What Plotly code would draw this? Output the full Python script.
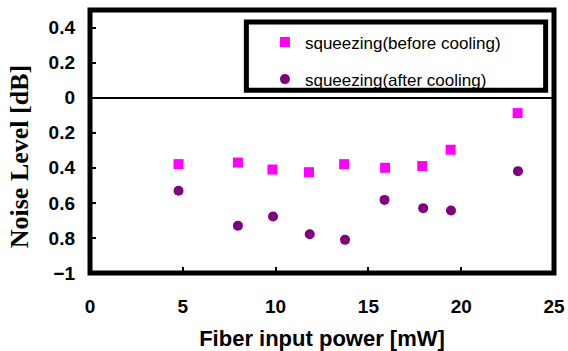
import plotly.graph_objects as go

# Data
power_before = [4.77, 7.97, 9.83, 11.8, 13.69, 15.9, 17.9, 19.43, 23.04]
noise_before = [-0.379, -0.37, -0.41, -0.425, -0.379, -0.40, -0.39, -0.297, -0.088]
power_after = [4.77, 7.97, 9.86, 11.84, 13.74, 15.87, 17.95, 19.45, 23.06]
noise_after = [-0.531, -0.73, -0.678, -0.779, -0.811, -0.583, -0.63, -0.644, -0.419]

x_tickvals = [0, 5, 10, 15, 20, 25]
x_ticktext = ["0", "5", "10", "15", "20", "25"]
y_tickvals = [0.4, 0.2, 0, -0.2, -0.4, -0.6, -0.8, -1]
y_ticktext = ["0.4", "0.2", "0", "0.2", "0.4", "0.6", "0.8", "\u22121"]

name_before = "squeezing(before cooling)"
name_after = "squeezing(after cooling)"

fig = go.Figure()
fig.add_trace(go.Scatter(x=power_before, y=noise_before, mode="markers", name=name_before,
                         legendgroup="a",
                         marker=dict(symbol="square", size=10, color="#FF00FF")))
fig.add_trace(go.Scatter(x=power_after, y=noise_after, mode="markers", name=name_after,
                         legendgroup="b",
                         marker=dict(symbol="circle", size=10, color="#800080")))

tickfont = dict(family="Liberation Sans, Arial", size=19, color="black", weight="bold")

fig.update_layout(
    width=568, height=351,
    margin=dict(l=90, r=14, t=10, b=78, autoexpand=False),
    paper_bgcolor="white", plot_bgcolor="white",
    showlegend=True,
    legend=dict(x=0.377, y=0.945, xanchor="left", yanchor="top",
                bgcolor="rgba(0,0,0,0)", borderwidth=0,
                font=dict(family="Liberation Sans, Arial", size=17, color="black"),
                tracegroupgap=12, itemwidth=30),
    xaxis=dict(range=[0, 25], tickvals=x_tickvals, ticktext=x_ticktext,
               automargin=False,
               showgrid=False, zeroline=False, showline=False,
               ticks="inside", ticklen=6, tickwidth=2, tickcolor="black",
               tickfont=tickfont, ticklabelstandoff=20,
               title=dict(text="Fiber input power [mW]", standoff=16,
                          font=dict(family="Liberation Sans, Arial", size=22,
                                    color="black", weight="bold"))),
    yaxis=dict(range=[-1, 0.5], tickvals=y_tickvals, ticktext=y_ticktext,
               automargin=False,
               showgrid=False, zeroline=True, zerolinecolor="black", zerolinewidth=2,
               showline=False,
               ticks="inside", ticklen=6, tickwidth=2, tickcolor="black",
               tickfont=tickfont, ticklabelstandoff=14),
    shapes=[
        dict(type="rect", xref="paper", yref="paper", x0=0, x1=1, y0=0, y1=1,
             line=dict(color="black", width=5), layer="above"),
        dict(type="rect", xref="paper", yref="paper", x0=0.337, x1=0.982, y0=0.695, y1=0.954,
             line=dict(color="black", width=5), fillcolor="white", layer="below"),
    ],
    annotations=[
        dict(text="Noise Level [dB]", xref="paper", yref="paper", x=0, y=0.44,
             xshift=-71, xanchor="center", yanchor="middle", textangle=-90, showarrow=False,
             font=dict(family="Liberation Serif, Times New Roman", size=26, color="black",
                       weight="bold")),
    ],
)

fig.write_html("out.html")
